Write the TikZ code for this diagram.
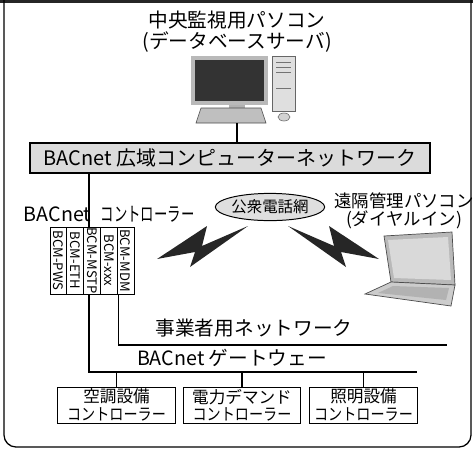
\documentclass[tikz,border=0pt]{standalone}
\usepackage{fontspec}
\setmainfont{Noto Sans CJK JP}
\usetikzlibrary{shapes.geometric,calc}
% katakana in the source figure is set narrower than the CJK font gives
\newcommand\kana[2][0.85]{\scalebox{#1}[1]{#2}}

\begin{document}
\begin{tikzpicture}[x=0.025cm,y=-0.025cm,
  netbox/.style={draw,line width=0.8pt,fill=gray!28,minimum width=10cm,minimum height=0.75cm,inner sep=1pt,font=\fontsize{14.2}{15}\selectfont},
  modbox/.style={draw,line width=0.6pt,minimum width=0.42cm,minimum height=1.675cm,inner sep=0pt,font=\fontsize{9.3}{10}\selectfont},
  devbox/.style={draw,line width=0.7pt,minimum height=0.9cm,align=center,inner sep=1pt,font=\fontsize{11.8}{12.3}\selectfont},
  lbl/.style={align=center,inner sep=1pt,font=\fontsize{14}{15}\selectfont},
  phone/.style={ellipse,draw,line width=0.7pt,fill=gray!25,minimum width=2.4cm,minimum height=0.68cm,inner sep=0pt,font=\fontsize{11}{12}\selectfont},
  wire/.style={line width=0.9pt}
]
\useasboundingbox (0,0) rectangle (473,450);

% outer frame
\fill[black!85] (0,0) rectangle (473,2.5);
\draw[line width=0.9pt,rounded corners=0.3cm] (4,0) -- (4,447) -- (471,447) -- (471,0);

% host computer
\node[lbl] (host) at (237,32) {中央監視用パソコン\\(データベースサーバ)};
\fill[gray!55] (191,56) rectangle (268,105);
\fill[black!80] (195,60) rectangle (264,101);
\fill[gray!60] (229,105) rectangle (245,109);
\filldraw[fill=gray!50,draw=black!70,line width=0.4pt] (201,108) -- (261,108) -- (266,123) -- (196,123) -- cycle;
\filldraw[fill=gray!25,draw=black!60,line width=0.4pt] (272,56) rectangle (295,111);
\foreach \yy in {62,67,72,88}
  \draw[black!55,line width=0.4pt] (276,\yy) -- (291,\yy);
\filldraw[fill=gray!35,draw=black!60,line width=0.4pt] (284,117) ellipse [x radius=6,y radius=4];
\coordinate (pc) at (237,123);

% wide area network
\node[netbox] (wan) at (230,158) {BACnet 広域コンピューターネットワーク};
\draw[wire] (pc) -- (pc |- wan.north);

% controller with its modules
\node[lbl,anchor=east] (ctlname) at (93,214) {BACnet};
\node[lbl,anchor=west] (ctlkind) at (99,214) {\kana[0.68]{コントローラー}};
\foreach \lbl [count=\i] in {BCM-PWS,BCM-ETH,BCM-MSTP,BCM-xxx,BCM-MDM}
  \node[modbox] (m\i) at ({41.6+16.8*\i},260.5) {\rotatebox{-90}{\lbl}};
\coordinate (mtop) at ($(m3.north)+(-3,0)$);
\coordinate (mfoot) at ($(m3.south)+(-3,0)$);
\draw[wire] (wan.south -| mtop) -- (mtop);

% phone line and remote pc
\node[phone] (pstn) at (270,207) {公衆電話網};
\fill[black!85] (157,259) -- (207,226) -- (202,246) -- (248,226) -- (190,267) -- (195,252) -- cycle;
\begin{scope}[shift={(536,0)},xscale=-1]
  \fill[black!85] (157,259) -- (207,226) -- (202,246) -- (248,226) -- (190,267) -- (195,252) -- cycle;
\end{scope}
\node[lbl,font=\fontsize{12.4}{12.8}\selectfont] (remote) at (404,211) {遠隔管理パソコン\\(ダイヤルイン)};
\filldraw[fill=gray!55,draw=black!70,line width=0.5pt] (384,236) -- (452,232) -- (455,285) -- (391,282) -- cycle;
\fill[gray!30] (388,240) -- (448,237) -- (451,280) -- (394,278) -- cycle;
\filldraw[fill=gray!40,draw=black!70,line width=0.5pt] (391,282) -- (455,285) -- (451,306) -- (365,294) -- cycle;
\fill[gray!60] (393,286) -- (449,288) -- (446,300) -- (378,293) -- cycle;

% business network
\coordinate (bizend) at (447,345);
\draw[wire] ($(m5.south west)+(1.5,0)$) |- (bizend);
\node[lbl] (biz) at (254,328) {事業者用ネットワーク};

% gateway bus and field controllers
\coordinate (gwend) at (417,372);
\draw[wire] (mfoot) |- (gwend);
\node[lbl] (gw) at (232,358) {BACnet ゲートウェー};
\node[devbox,minimum width=2.93cm] (hvac) at (116.5,405) {空調設備\\\kana{コントローラー}};
\node[devbox,minimum width=2.9cm] (demand) at (242,405) {電力デマンド\\\kana{コントローラー}};
\node[devbox,minimum width=2.68cm] (light) at (363.5,405) {照明設備\\\kana{コントローラー}};
\foreach \dev in {hvac,demand,light}
  \draw[wire] (\dev.north) -- (\dev.north |- gwend);

\end{tikzpicture}
\end{document}
